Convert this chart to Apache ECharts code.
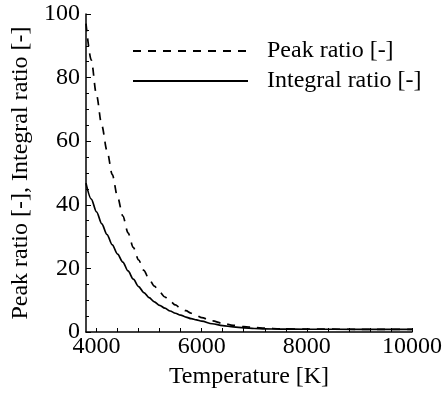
<!DOCTYPE html>
<html>
<head>
<meta charset="utf-8">
<script src="https://cdn.jsdelivr.net/npm/echarts@6/dist/echarts.min.js"></script>
<style>html,body{margin:0;padding:0;background:#fff}#c{width:443px;height:393px}</style>
</head>
<body>
<div id="c"></div>
<script>
var temperature = [3800,3900,4000,4100,4200,4300,4400,4500,4600,4700,4800,4900,5000,5100,5200,5300,5400,5500,5600,5700,5800,5900,6000,6200,6400,6600,6800,7000,7200,7500,8000,9000,10000];
var peakRatio = [97,85.5,74.5,65,57,49.5,42.5,36.5,31.2,26.6,22.7,19.4,16.6,14.4,12.6,11.0,9.7,8.5,7.5,6.7,5.9,5.2,4.5,3.5,2.7,2.1,1.7,1.45,1.2,1.0,0.9,0.85,0.85];
var integralRatio = [46.8,41.8,37.8,34.0,30.6,27.4,24.5,22.0,19.2,16.6,14.3,12.4,10.8,9.5,8.4,7.5,6.6,5.9,5.3,4.7,4.2,3.8,3.4,2.6,2.0,1.6,1.3,1.1,0.98,0.9,0.87,0.85,0.85];
var xTickLabels = [4000,6000,8000,10000];
var xTicks = [4000,4400,4800,5200,5600,6000,6400,6800,7200,7600,8000,8400,8800,9200,9600,10000];
var seriesNames = ['Peak ratio [-]','Integral ratio [-]'];

var FONT = 'Liberation Serif';
function pairs(xs, ys){ return xs.map(function(x,i){ return [x, ys[i]]; }); }

var chart = echarts.init(document.getElementById('c'), null, {renderer:'canvas'});
chart.setOption({
  animation: false,
  backgroundColor: '#fff',
  grid: {left: 86, right: 31, top: 14, bottom: 61, containLabel: false, outerBoundsMode: 'none'},
  legend: {
    orient: 'vertical', left: 127, top: 34,
    itemWidth: 115, itemHeight: 10, itemGap: 6,
    itemStyle: {opacity: 0},
    data: seriesNames,
    textStyle: {fontFamily: FONT, fontSize: 24, color: '#000', lineHeight: 24, padding: [0,0,0,14]}
  },
  xAxis: {
    type: 'value', min: 3800, max: 10000,
    name: 'Temperature [K]', nameLocation: 'middle', nameGap: 33,
    nameTextStyle: {fontFamily: FONT, fontSize: 24, color: '#000'},
    axisLine: {show: true, onZero: false, lineStyle: {color: '#000', width: 1.5}},
    axisTick: {show: true, inside: true, length: 4, customValues: xTicks, lineStyle: {color: '#000', width: 1}},
    axisLabel: {customValues: xTickLabels, formatter: function(v){ return String(v); }, fontFamily: FONT, fontSize: 24, color: '#000', margin: 3},
    splitLine: {show: false}
  },
  yAxis: {
    type: 'value', min: 0, max: 100, interval: 20,
    name: 'Peak ratio [-], Integral ratio [-]', nameLocation: 'middle', nameGap: 52,
    nameTextStyle: {fontFamily: FONT, fontSize: 24, color: '#000'},
    axisLine: {show: true, lineStyle: {color: '#000', width: 1.5}},
    axisTick: {show: true, inside: true, length: 5, lineStyle: {color: '#000', width: 1}},
    minorTick: {show: true, splitNumber: 4, length: 3, lineStyle: {color: '#000', width: 1}},
    axisLabel: {fontFamily: FONT, fontSize: 24, color: '#000', margin: 6},
    splitLine: {show: false}
  },
  series: [
    {name: seriesNames[0], type: 'line', data: pairs(temperature, peakRatio), symbol: 'none', smooth: 0.3, smoothMonotone: 'x',
     lineStyle: {color: '#000', width: 1.7, type: [8,7]}, itemStyle: {color: '#000'}},
    {name: seriesNames[1], type: 'line', data: pairs(temperature, integralRatio), symbol: 'none', smooth: 0.3, smoothMonotone: 'x',
     lineStyle: {color: '#000', width: 1.7, type: 'solid'}, itemStyle: {color: '#000'}}
  ]
});
</script>
</body>
</html>
